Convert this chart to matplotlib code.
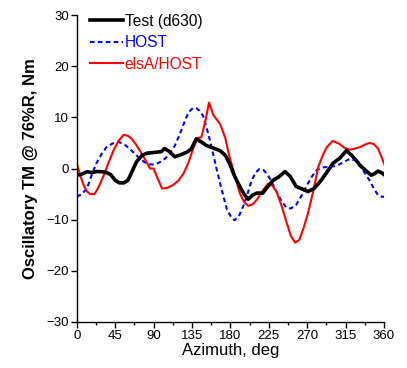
import matplotlib
matplotlib.use("Agg")
import matplotlib.pyplot as plt
from matplotlib.ticker import MultipleLocator

plt.rcParams['font.family'] = ['Liberation Sans', 'DejaVu Sans']

# Test (d630)
test_az = [0, 6, 12, 18, 23, 29, 35, 40, 45, 50, 55, 60, 65, 70, 76, 82, 88, 94, 99, 103,
           108, 115, 122, 129, 134, 140, 146, 152, 160, 168, 174, 179, 185, 191, 196, 201,
           206, 211, 218, 224, 230, 237, 244, 250, 257, 264, 271, 278, 285, 292, 300, 308,
           316, 322, 328, 332, 338, 345, 349, 353, 357, 361]
test_tm = [-1.3, -1.1, -0.6, -0.8, -0.6, -0.6, -0.8, -1.2, -2.3, -2.8, -2.8, -2.3, -0.5, 1.3, 2.5, 3.0,
           3.1, 3.2, 3.3, 3.9, 3.4, 2.3, 2.7, 3.2, 3.8, 5.8, 5.2, 4.5, 4.0, 3.5, 2.6, 1.0,
           -1.5, -3.5, -5.0, -6.0, -5.2, -4.8, -4.8, -3.5, -2.3, -1.6, -0.6, -1.5, -3.5, -4.0, -4.5, -3.9,
           -2.6, -1.0, 1.0, 2.0, 3.5, 2.6, 1.5, 0.6, -0.3, -1.3, -1.0, -0.5, -0.8, -1.3]

# HOST
host_az = [0, 6, 12, 17, 23, 29, 35, 42, 49, 55, 62, 68, 74, 80, 86, 92, 98, 104, 109, 115,
           121, 126, 131, 136, 140, 144, 148, 153, 158, 163, 168, 172, 176, 181, 185, 190,
           195, 200, 205, 210, 214, 219, 224, 229, 234, 240, 246, 251, 257, 263, 269, 275,
           281, 287, 293, 299, 304, 312, 320, 326, 332, 338, 343, 348, 353, 357, 361]
host_tm = [-5.5, -5.0, -3.9, -1.5, 1.0, 2.8, 4.2, 4.9, 5.2, 4.8, 3.9, 2.9, 1.9, 1.2, 0.8, 0.8,
           1.3, 2.0, 2.9, 4.5, 6.8, 9.0, 11.0, 11.8, 11.8, 11.3, 10.3, 7.5, 4.2, 0.5, -2.9, -5.5,
           -8.0, -9.5, -10.1, -9.3, -7.4, -5.0, -2.3, -0.7, -0.1, -0.3, -1.3, -2.8, -4.5, -6.4, -7.7, -7.8,
           -7.1, -5.4, -3.5, -1.7, -0.3, 0.2, 0.3, 0.4, 0.5, 1.2, 1.9, 1.6, 0.6, -1.0, -2.3, -3.9,
           -5.2, -5.5, -5.5]

# elsA/HOST
elsa_az = [0, 4, 8, 12, 16, 21, 26, 31, 37, 43, 49, 55, 60, 64, 69, 74, 80, 86, 90, 95,
           100, 106, 113, 119, 125, 131, 137, 142, 146, 151, 155, 160, 168, 174, 179, 185,
           191, 196, 201, 206, 211, 217, 224, 229, 234, 240, 246, 251, 256, 261, 266, 271,
           277, 283, 288, 293, 300, 308, 314, 320, 326, 332, 338, 343, 348, 353, 357, 361]
elsa_tm = [1.0, -1.3, -3.2, -4.5, -5.0, -5.0, -3.5, -1.6, 1.0, 3.5, 5.4, 6.6, 6.4, 5.9, 4.8, 3.5,
           1.8, 0.0, 0.0, -2.0, -3.9, -3.8, -3.2, -2.4, -1.0, 1.2, 4.2, 6.0, 6.1, 9.5, 12.9, 10.5,
           8.7, 6.0, 2.3, -1.2, -4.8, -6.5, -7.3, -7.0, -6.1, -4.5, -3.0, -3.3, -4.5, -7.3, -10.6, -13.2,
           -14.5, -13.9, -11.5, -8.7, -4.5, 0.3, 2.5, 4.2, 5.4, 4.8, 4.0, 3.7, 3.9, 4.2, 4.7, 5.0,
           4.8, 3.9, 2.3, 0.6]

x_ticks = [0, 45, 90, 135, 180, 225, 270, 315, 360]
y_ticks = [-30, -20, -10, 0, 10, 20, 30]

fig = plt.figure(figsize=(4.07, 3.68), dpi=100)
ax = fig.add_axes([0.1885, 0.125, 0.755, 0.834])

ax.plot(test_az, test_tm, color='black', lw=2.6, label='Test (d630)', zorder=3)
ax.plot(host_az, host_tm, color='#0000ff', lw=1.5, ls=(0, (2.2, 1.6)), label='HOST', zorder=2)
ax.plot(elsa_az, elsa_tm, color='#ff0000', lw=1.5, label='elsA/HOST', zorder=2)

ax.set_xlim(0, 360)
ax.set_ylim(-30, 30)
ax.set_xticks(x_ticks)
ax.set_yticks(y_ticks)
ax.xaxis.set_minor_locator(MultipleLocator(22.5))
ax.tick_params(which='major', direction='out', length=4, width=1, labelsize=9.5, pad=1.5)
ax.tick_params(which='minor', direction='out', length=2.5, width=1)
for s in ['top', 'right']:
    ax.spines[s].set_visible(False)
for s in ['left', 'bottom']:
    ax.spines[s].set_linewidth(1)

ax.set_xlabel('Azimuth, deg', fontsize=12, labelpad=1)
ax.set_ylabel('Oscillatory TM @ 76%R, Nm', fontsize=12, fontweight='bold', labelpad=6)

ax.legend(loc='upper left', bbox_to_anchor=(0.024, 1.025), frameon=False, fontsize=11.2,
          handlelength=2.1, handletextpad=0.1, labelspacing=0.42, labelcolor='linecolor',
          borderaxespad=0)

fig.savefig('out.png', dpi=100)
